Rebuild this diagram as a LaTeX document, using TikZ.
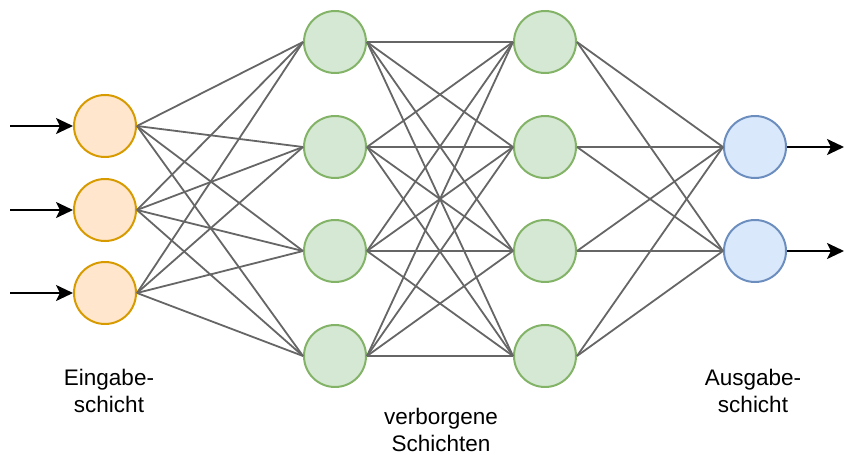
\documentclass[tikz,border=0pt]{standalone}
\usepackage{fontspec}
\setmainfont{Liberation Sans}
\usepackage{tikz}
\usetikzlibrary{arrows.meta}

\definecolor{inFill}{HTML}{FFE6CC}
\definecolor{inDraw}{HTML}{D79B00}
\definecolor{hidFill}{HTML}{D5E8D4}
\definecolor{hidDraw}{HTML}{82B366}
\definecolor{outFill}{HTML}{DAE8FC}
\definecolor{outDraw}{HTML}{6C8EBF}
\definecolor{edgeGray}{HTML}{666666}

\begin{document}
\begin{tikzpicture}[x=1pt,y=-1pt,
		neuron/.style={circle,minimum size=62pt,inner sep=0pt,line width=2pt},
		weight/.style={draw=edgeGray,line width=1.8pt},
		signal/.style={draw=black,line width=2.2pt,-{Stealth[length=17pt,width=16pt,inset=4pt]}},
		caption/.style={align=center,inner sep=0pt,font=\fontsize{22.5}{27}\selectfont}]
		\useasboundingbox (0,0) rectangle (844,455);
		
		% Eingabeschicht
		\foreach \i/\y in {1/126,2/210,3/293}{
			\node[neuron,draw=inDraw,fill=inFill] (e\i) at (105,\y) {};
			\coordinate (x\i) at (10,\y);
		}
		% verborgene Schichten
		\foreach \i/\y in {1/42,2/147,3/251,4/356}{
			\node[neuron,draw=hidDraw,fill=hidFill] (a\i) at (335,\y) {};
			\node[neuron,draw=hidDraw,fill=hidFill] (b\i) at (545,\y) {};
		}
		% Ausgabeschicht
		\foreach \i/\y in {1/147,2/251}{
			\node[neuron,draw=outDraw,fill=outFill] (o\i) at (755,\y) {};
			\coordinate (y\i) at (844,\y);
		}
		
		\foreach \i in {1,2,3}{
			\foreach \j in {1,...,4}{
				\draw[weight] (e\i.east) -- (a\j.west);
			}
		}
		\foreach \i in {1,...,4}{
			\foreach \j in {1,...,4}{
				\draw[weight] (a\i.east) -- (b\j.west);
			}
			\foreach \j in {1,2}{
				\draw[weight] (b\i.east) -- (o\j.west);
			}
		}
		
		\foreach \i in {1,2,3}{
			\draw[signal] (x\i) -- (e\i.west);
		}
		\foreach \i in {1,2}{
			\draw[signal] (o\i.east) -- (y\i);
		}
		
		\node[caption] (capE) at (109,391) {Eingabe-\\schicht};
		\node[caption] (capH) at (441,430) {verborgene\\Schichten};
		\node[caption] (capA) at (753,391) {Ausgabe-\\schicht};
	\end{tikzpicture}
\end{document}
